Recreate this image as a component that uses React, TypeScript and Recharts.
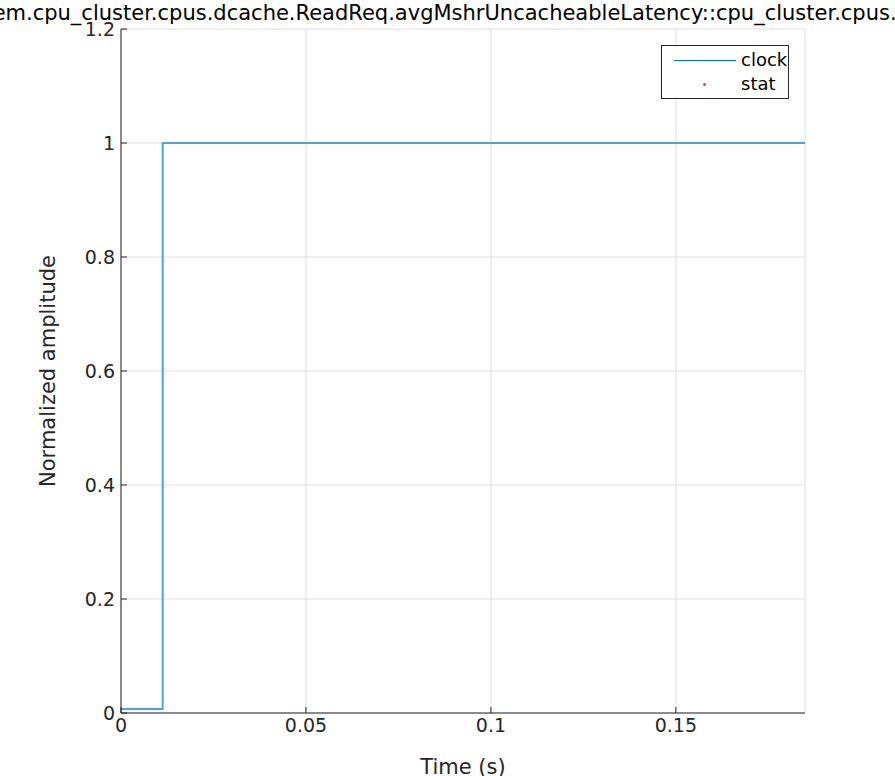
import { CartesianGrid, Line, LineChart, XAxis, YAxis } from "recharts";

const times = [0, 0.01127, 0.1849];
const clockValues = [0.007, 1, 1];
const xTicks = [0, 0.05, 0.1, 0.15];
const yTicks = [0, 0.2, 0.4, 0.6, 0.8, 1, 1.2];
const title =
  "system.cpu_cluster.cpus.dcache.ReadReq.avgMshrUncacheableLatency::cpu_cluster.cpus.data";

const data = times.map((t, i) => ({ t, clock: clockValues[i] }));
const font = "DejaVu Sans, sans-serif";
const tickStyle = { fontSize: 19, fill: "#262626", fontFamily: font };

export default function App() {
  return (
    <div style={{ position: "absolute", left: 0, top: 0, width: 895, height: 776, background: "#fff", overflow: "hidden", fontFamily: font }}>
      <div style={{ position: "absolute", top: 1, left: 447, transform: "translateX(-50%)", whiteSpace: "nowrap", fontSize: 21, color: "#000" }}>
        {title}
      </div>
      <LineChart width={895} height={776} data={data} margin={{ top: 29, right: 90, bottom: 0, left: 0 }}>
        <CartesianGrid stroke="#dfdfdf" />
        <XAxis
          type="number"
          dataKey="t"
          domain={[0, 0.1849]}
          ticks={xTicks}
          allowDataOverflow
          tick={tickStyle}
          tickFormatter={(v) => String(v)}
          stroke="#262626"
          tickSize={-6}
          tickMargin={12}
          height={63}
          label={{ value: "Time (s)", position: "insideBottom", offset: 2, style: { fontSize: 21, fill: "#262626", fontFamily: font } }}
        />
        <YAxis
          type="number"
          domain={[0, 1.2]}
          ticks={yTicks}
          tick={tickStyle}
          stroke="#262626"
          tickSize={-6}
          tickMargin={12}
          width={121}
          label={{ value: "Normalized amplitude", angle: -90, position: "insideLeft", offset: 48, style: { fontSize: 21, fill: "#262626", fontFamily: font, textAnchor: "middle" } }}
        />
        <Line type="stepAfter" dataKey="clock" stroke="#4da3df" strokeWidth={2} dot={false} isAnimationActive={false} />
      </LineChart>
      <div style={{ position: "absolute", left: 661, top: 45, width: 126, height: 52, border: "1px solid #262626", background: "#fff", fontSize: 18, color: "#000" }}>
        <div style={{ position: "absolute", left: 12, top: 14, width: 62, height: 1, background: "#0072bd" }} />
        <div style={{ position: "absolute", left: 79, top: 3 }}>clock</div>
        <div style={{ position: "absolute", left: 41, top: 37, width: 3, height: 3, borderRadius: 2, background: "#d95319" }} />
        <div style={{ position: "absolute", left: 79, top: 27 }}>stat</div>
      </div>
    </div>
  );
}
